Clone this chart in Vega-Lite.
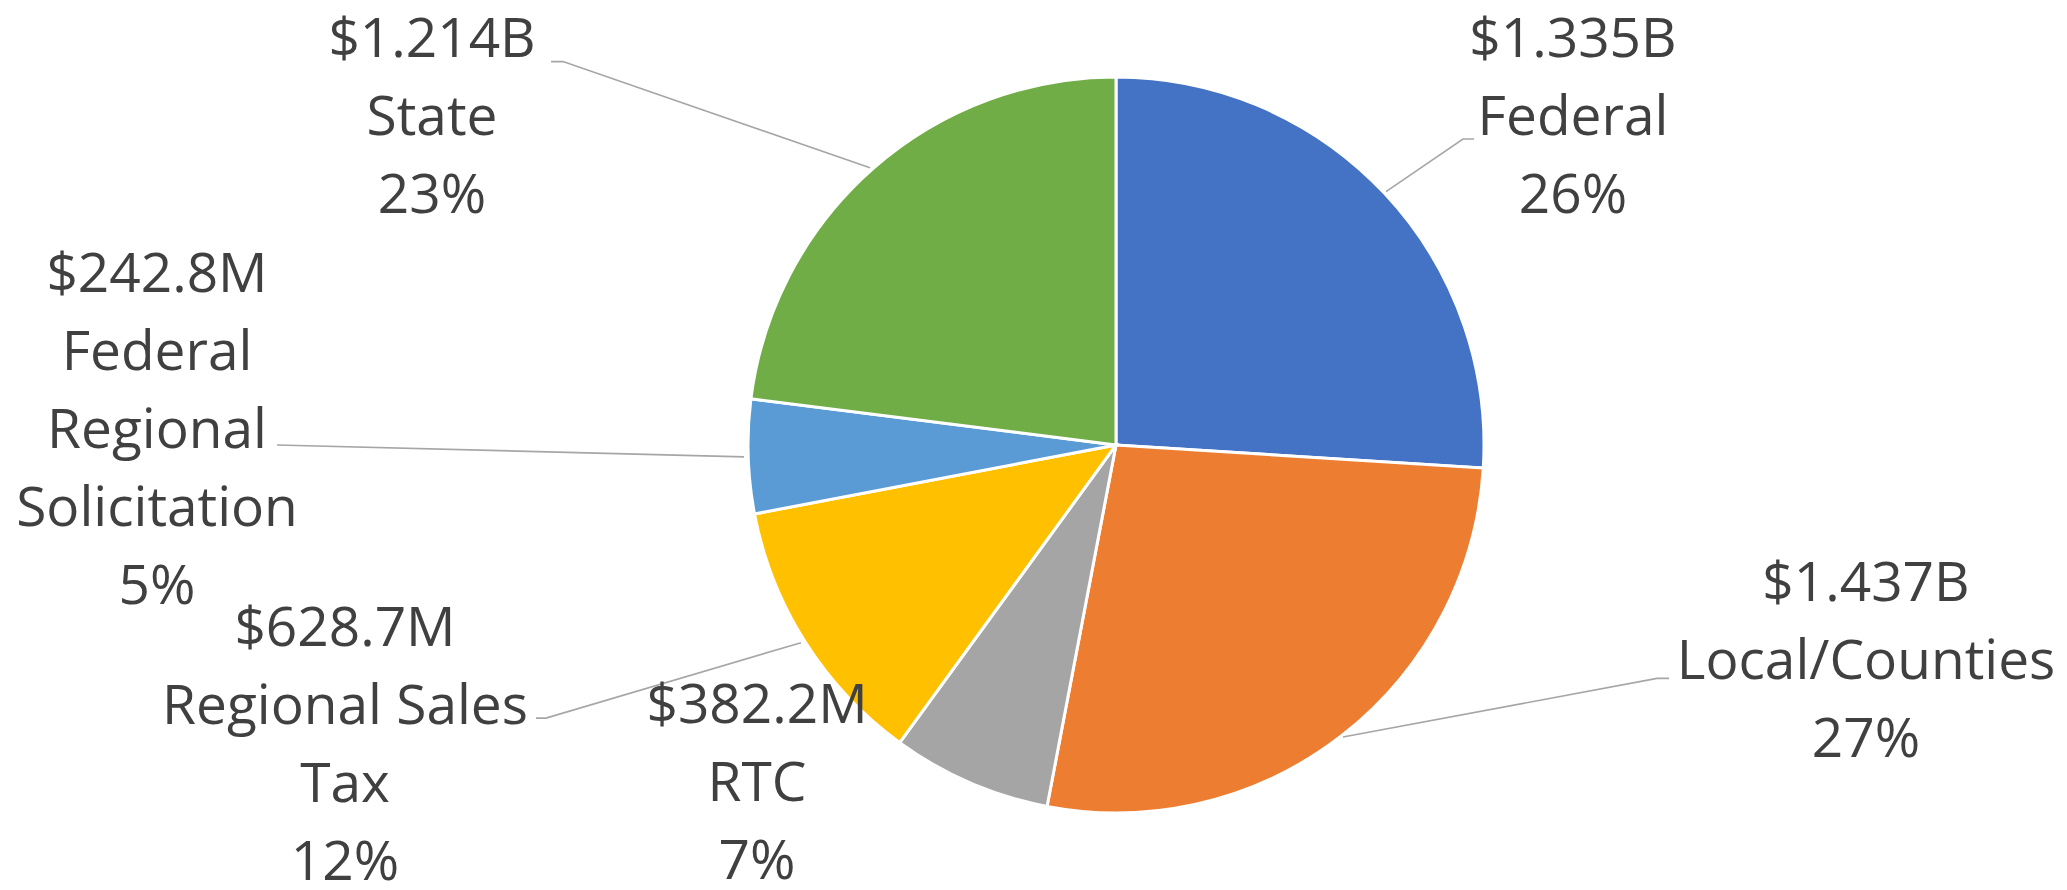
{
  "$schema": "https://vega.github.io/schema/vega-lite/v6.json",
  "width": 2067,
  "height": 890,
  "autosize": {"type": "fit", "contains": "padding"},
  "padding": 0,
  "background": "white",
  "config": {"view": {"stroke": null}},
  "datasets": {
    "slices": [
      {"order": 1, "source": "Federal", "amount": 1335, "pct": 26},
      {"order": 2, "source": "Local/Counties", "amount": 1437, "pct": 27},
      {"order": 3, "source": "RTC", "amount": 382.2, "pct": 7},
      {"order": 4, "source": "Regional Sales Tax", "amount": 628.7, "pct": 12},
      {"order": 5, "source": "Federal Regional Solicitation", "amount": 242.8, "pct": 5},
      {"order": 6, "source": "State", "amount": 1214, "pct": 23}
    ],
    "labels": [
      {"source": "Federal", "text": "$1.335B\nFederal\n26%", "lx": 1.2418, "ly": 1.0625},
      {"source": "Local/Counties", "text": "$1.437B\nLocal/Counties\n27%", "lx": 2.038, "ly": -0.4266},
      {"source": "RTC", "text": "$382.2M\nRTC\n7%", "lx": -0.9755, "ly": -0.7609},
      {"source": "Regional Sales Tax", "text": "$628.7M\nRegional Sales\nTax\n12%", "lx": -2.0951, "ly": -0.5489},
      {"source": "Federal Regional Solicitation", "text": "$242.8M\nFederal\nRegional\nSolicitation\n5%", "lx": -2.606, "ly": 0.4185},
      {"source": "State", "text": "$1.214B\nState\n23%", "lx": -1.8587, "ly": 1.0625}
    ],
    "leaders": [
      {"source": "Federal", "seq": 1, "px": 0.7337, "py": 0.6929},
      {"source": "Federal", "seq": 2, "px": 0.9429, "py": 0.837},
      {"source": "Federal", "seq": 3, "px": 0.9728, "py": 0.837},
      {"source": "State", "seq": 1, "px": -0.6685, "py": 0.7582},
      {"source": "State", "seq": 2, "px": -1.5027, "py": 1.0489},
      {"source": "State", "seq": 3, "px": -1.5353, "py": 1.0489},
      {"source": "Federal Regional Solicitation", "seq": 1, "px": -1.0109, "py": -0.0326},
      {"source": "Federal Regional Solicitation", "seq": 2, "px": -2.2799, "py": 0.0},
      {"source": "Regional Sales Tax", "seq": 1, "px": -0.856, "py": -0.5408},
      {"source": "Regional Sales Tax", "seq": 2, "px": -1.5489, "py": -0.7473},
      {"source": "Regional Sales Tax", "seq": 3, "px": -1.5761, "py": -0.7473},
      {"source": "Local/Counties", "seq": 1, "px": 0.6168, "py": -0.7989},
      {"source": "Local/Counties", "seq": 2, "px": 1.4701, "py": -0.6386},
      {"source": "Local/Counties", "seq": 3, "px": 1.5027, "py": -0.6386}
    ]
  },
  "layer": [
    {
      "data": {"name": "slices"},
      "mark": {"type": "arc", "outerRadius": 368, "stroke": "white", "strokeWidth": 3},
      "encoding": {
        "theta": {"field": "pct", "type": "quantitative", "stack": true},
        "order": {"field": "order", "type": "quantitative"},
        "color": {
          "field": "source",
          "type": "nominal",
          "scale": {
            "domain": ["Federal", "Local/Counties", "RTC", "Regional Sales Tax", "Federal Regional Solicitation", "State"],
            "range": ["#4472C4", "#ED7D31", "#A5A5A5", "#FFC000", "#5B9BD5", "#70AD47"]
          },
          "legend": null
        },
        "x": {"datum": 0, "type": "quantitative", "scale": {"domain": [-3.03261, 2.58424], "nice": false, "zero": false}, "axis": null},
        "y": {"datum": 0, "type": "quantitative", "scale": {"domain": [-1.20109, 1.21739], "nice": false, "zero": false}, "axis": null}
      }
    },
    {
      "data": {"name": "leaders"},
      "mark": {"type": "line", "color": "#A6A6A6", "strokeWidth": 1.6},
      "encoding": {
        "x": {"field": "px", "type": "quantitative", "scale": {"domain": [-3.03261, 2.58424], "nice": false, "zero": false}, "axis": null},
        "y": {"field": "py", "type": "quantitative", "scale": {"domain": [-1.20109, 1.21739], "nice": false, "zero": false}, "axis": null},
        "detail": {"field": "source", "type": "nominal"},
        "order": {"field": "seq", "type": "quantitative"}
      }
    },
    {
      "data": {"name": "labels"},
      "mark": {"type": "text", "font": "Open Sans", "fontSize": 55, "lineHeight": 78, "lineBreak": "\n", "align": "center", "baseline": "alphabetic", "color": "#404040"},
      "encoding": {
        "x": {"field": "lx", "type": "quantitative", "scale": {"domain": [-3.03261, 2.58424], "nice": false, "zero": false}, "axis": null},
        "y": {"field": "ly", "type": "quantitative", "scale": {"domain": [-1.20109, 1.21739], "nice": false, "zero": false}, "axis": null},
        "text": {"field": "text", "type": "nominal"}
      }
    }
  ]
}
